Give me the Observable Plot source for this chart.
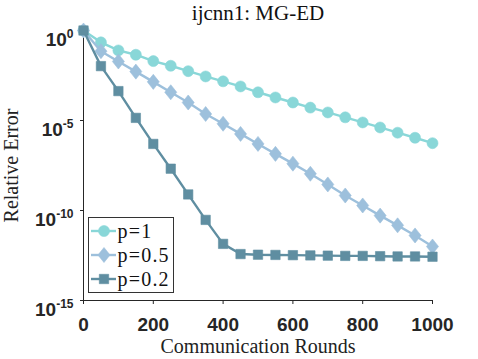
<!DOCTYPE html>
<html><head><meta charset="utf-8">
<script src="https://cdn.jsdelivr.net/npm/d3@7"></script>
<script src="https://cdn.jsdelivr.net/npm/@observablehq/plot@0.6"></script>
<style>body{margin:0;background:#fff} svg{display:block}</style>
</head><body><div id="chart"></div>
<script>
const rounds = [0,50,100,150,200,250,300,350,400,450,500,550,600,650,700,750,800,850,900,950,1000];
const errP1 = [1,2.2e-1,7.8e-2,4.5e-2,2.0e-2,1.1e-2,5.5e-3,2.8e-3,1.5e-3,7.8e-4,3.7e-4,1.9e-4,1.0e-4,5.2e-5,2.8e-5,1.5e-5,7.8e-6,4.1e-6,2.1e-6,1.1e-6,5.5e-7];
const errP05 = [1,7.1e-2,1.9e-2,5.2e-3,1.4e-3,3.7e-4,1.0e-4,2.3e-5,6.6e-6,1.8e-6,5.0e-7,1.4e-7,4.0e-8,1.1e-8,2.8e-9,6.8e-10,1.9e-10,5.2e-11,1.5e-11,4.1e-12,1.0e-12];
const errP02 = [1,1.05e-2,4.3e-4,1.4e-5,5.0e-7,2.1e-8,7.8e-10,3.0e-11,1.4e-12,3.8e-13,3.5e-13,3.4e-13,3.3e-13,3.2e-13,3.1e-13,3.0e-13,3.0e-13,2.9e-13,2.8e-13,2.8e-13,2.7e-13];
const seriesNames = ["p=1","p=0.5","p=0.2"];
const seriesColors = ["#89d7d8","#9dc0dc","#5f8ea1"];
const xTicks = [0,200,400,600,800,1000];
const yTicks = [1,1e-5,1e-10,1e-15];
const titleText = "ijcnn1: MG-ED";
const xLabelText = "Communication Rounds";
const yLabelText = "Relative Error";

// marker shapes
const diamondSym = {draw(ctx, size){ const h = Math.sqrt(size/1.5), w = 0.8*h; ctx.moveTo(0,-h); ctx.lineTo(w,0); ctx.lineTo(0,h); ctx.lineTo(-w,0); ctx.closePath(); }};
const symbols = [d3.symbolCircle, diamondSym, d3.symbolSquare];
const radii = [5.5, 5.2, 5.3];

const seriesValues = [errP1, errP05, errP02];
const series = seriesNames.map((name,k)=>({name, color: seriesColors[k], sym: symbols[k], r: radii[k],
  data: rounds.map((x,i)=>({x, y: seriesValues[k][i]}))}));

const marks = [
  Plot.ruleX([0], {stroke:"#262626", strokeWidth:1}),
  Plot.ruleY([1e-15], {stroke:"#262626", strokeWidth:1}),
  Plot.axisX(xTicks, {tickSize:4, tickPadding:13, label:null, stroke:"#262626", fill:"#262626", tickFormat: d => String(d)}),
  Plot.axisY(yTicks, {tickSize:3, tickPadding:7, label:null, stroke:"#262626", fill:"#262626",
     tickFormat: d => "10^" + Math.round(Math.log10(d))}),
];
for (const s of series) {
  marks.push(Plot.line(s.data, {x:"x", y:"y", stroke:s.color, strokeWidth:2.4}));
  marks.push(Plot.dot(s.data, {x:"x", y:"y", symbol:s.sym, r:s.r, fill:s.color, stroke:s.color, strokeWidth:0.6}));
}
marks.push(Plot.text([titleText], {text:d=>d, frameAnchor:"top", dy:-11, lineAnchor:"bottom", fontFamily:"Liberation Serif", fontSize:21, fontWeight:"normal", fill:"#111", ariaLabel:"title"}));
marks.push(Plot.text([xLabelText], {text:d=>d, frameAnchor:"bottom", dy:52, lineAnchor:"bottom", fontFamily:"Liberation Serif", fontSize:20, fontWeight:"normal", fill:"#222", ariaLabel:"xlabel"}));
marks.push(Plot.text([yLabelText], {text:d=>d, frameAnchor:"left", dx:-66, rotate:-90, lineAnchor:"bottom", textAnchor:"middle", fontFamily:"Liberation Serif", fontSize:20, fontWeight:"normal", fill:"#222", ariaLabel:"ylabel"}));

const chart = Plot.plot({
  width:478, height:359, marginTop:30, marginRight:46, marginBottom:59, marginLeft:83,
  style:{fontFamily:"Liberation Sans", fontSize:"19px", fontWeight:"bold", background:"#fff", color:"#262626"},
  x:{domain:[0,1000]},
  y:{type:"log", domain:[1e-15,1]},
  marks
});
document.getElementById("chart").appendChild(chart);

const svg = d3.select(chart);
svg.selectAll('g[aria-label="title"] text').style("letter-spacing","1.1px");
svg.selectAll('g[aria-label="xlabel"] text').style("letter-spacing","0.6px");
svg.selectAll('g[aria-label="ylabel"] text').style("letter-spacing","1px");
svg.selectAll('g[aria-label="y-axis tick label"] text').each(function(){
  const exp = this.textContent.split("^")[1];
  const t = d3.select(this);
  t.text(null).attr("dy", "9");
  t.append("tspan").text("10");
  t.append("tspan").attr("dy", -8).attr("font-size", 12).text(exp);
});

// legend
const lg = svg.append("g").attr("class","legend").attr("text-anchor","start");
lg.append("rect").attr("x",88.5).attr("y",217.5).attr("width",85).attr("height",75)
  .attr("fill","#fff").attr("stroke","#333").attr("stroke-width",1);
series.forEach((s,k)=>{
  const cy = 231 + 24*k;
  lg.append("line").attr("x1",91).attr("x2",116).attr("y1",cy).attr("y2",cy).attr("stroke",s.color).attr("stroke-width",2.4);
  lg.append("path").attr("transform",`translate(104,${cy})`).attr("d", d3.symbol(s.sym, Math.PI*s.r*s.r)())
    .attr("fill",s.color).attr("stroke",s.color).attr("stroke-width",0.6);
  lg.append("text").attr("x",117.5).attr("y",cy+6.5).attr("font-family","Liberation Serif").attr("font-size",20)
    .attr("font-weight","normal").attr("fill","#111").style("letter-spacing","1.2px").text(s.name);
});
</script></body></html>
